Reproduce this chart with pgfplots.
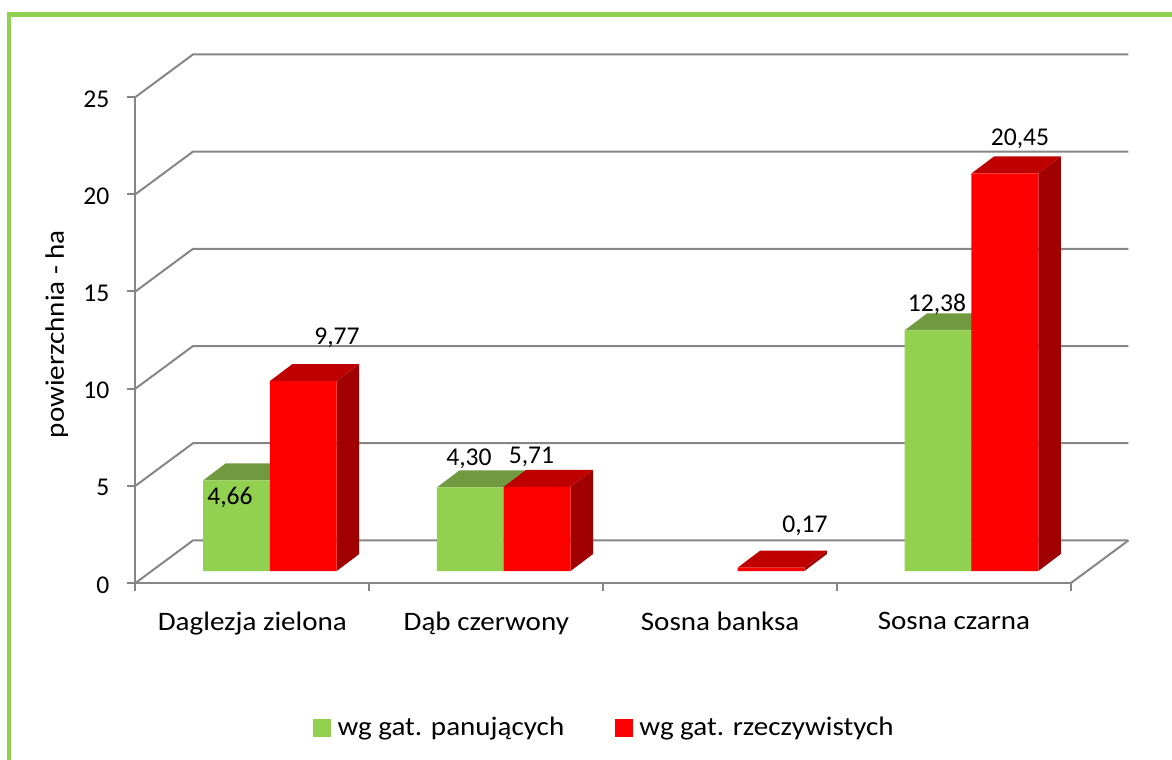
\documentclass[border=0pt]{standalone}
\usepackage{fontspec}
\setmainfont{Carlito}
\newfontfamily\widefont[FakeStretch=1.09]{Carlito}
\usepackage{pgfplots}
\pgfplotsset{compat=1.18}
\definecolor{lgreen}{HTML}{92D050}
\definecolor{tgreen}{HTML}{71993F}
\definecolor{lred}{HTML}{FF0000}
\definecolor{tred}{HTML}{BE0000}
\definecolor{sred}{HTML}{A00000}
\definecolor{sgreen}{HTML}{5A7F30}
\definecolor{axgray}{HTML}{868686}
\newcommand{\chartfont}{\fontsize{19.2}{23}\selectfont}
\newcommand{\widetext}{\widefont\fontsize{20}{24}\selectfont}
% bar geometry in axis units
\newcommand{\bw}{0.2857}
\newcommand{\base}{0.617}
\newcommand{\ddx}{0.0963}
\newcommand{\ddy}{0.8745}
\newcommand{\threedbar}[5]{%
  \pgfmathsetmacro\xa{#1}\pgfmathsetmacro\xb{#1+\bw}\pgfmathsetmacro\xc{#1+\bw+\ddx}\pgfmathsetmacro\xd{#1+\ddx}%
  \pgfmathsetmacro\ya{\base}\pgfmathsetmacro\yb{\base+#2}\pgfmathsetmacro\yc{\base+#2+\ddy}\pgfmathsetmacro\yd{\base+\ddy}%
  \addplot[fill=#5,draw=none,forget plot] coordinates {(\xb,\ya) (\xc,\yd) (\xc,\yc) (\xb,\yb) (\xb,\ya)};
  \addplot[fill=#4,draw=none,forget plot] coordinates {(\xa,\yb) (\xd,\yc) (\xc,\yc) (\xb,\yb) (\xa,\yb)};
  \addplot[fill=#3,draw=none,forget plot] coordinates {(\xa,\ya) (\xb,\ya) (\xb,\yb) (\xa,\yb) (\xa,\ya)};
}
\newcommand{\wallline}[1]{%
  \pgfmathsetmacro\yf{#1}\pgfmathsetmacro\yg{#1+2.19}%
  \addplot[axgray,line width=1.5pt,forget plot] coordinates {(0,\yf) (0.246,\yg) (4.246,\yg)};
}
\begin{document}
\begin{tikzpicture}
\path[use as bounding box] (0pt,0pt) rectangle (879pt,-570pt);
\begin{axis}[
  at={(101.6pt,-437.25pt)},anchor=origin,
  scale only axis,width=701.6pt,height=364.5pt,
  xmin=0,xmax=4,ymin=0,ymax=25,clip=false,
  axis lines=left,axis line style={-,axgray,line width=1.5pt},
  tick align=outside,tick style={axgray,line width=1.5pt},
  major tick length=6pt,
  xtick={0,1,2,3,4},x tick label as interval,
  xticklabels={Daglezja zielona,Dąb czerwony,Sosna banksa,Sosna czarna},
  ytick={0,5,10,15,20,25},
  /pgf/number format/assume math mode=true,
  yticklabel style={font=\chartfont,black,xshift=-10pt,yshift=-1.5pt},
  xticklabel style={font=\widetext,black,yshift=-12pt},
  ylabel={powierzchnia - ha},
  ylabel style={font=\widetext,black,at={(axis description cs:-0.0765,0.512)},anchor=base},
  legend columns=2,
  legend style={draw=none,fill=none,font=\widetext,at={(130pt,-96.5pt)},anchor=north west,
    /tikz/every even column/.style={column sep=36pt}},
  legend image code/.code={\fill[#1] (0pt,-6.5pt) rectangle (13pt,6.5pt);\path (16pt,0pt);},
]
\addlegendimage{lgreen}
\addlegendentry{wg gat. panujących}
\addlegendimage{lred}
\addlegendentry{wg gat. rzeczywistych}
% walls and floor
\wallline{0}\wallline{5}\wallline{10}\wallline{15}\wallline{20}\wallline{25}
\addplot[axgray,line width=1.5pt,forget plot] coordinates {(4,0) (4.246,2.19)};
% bars: x of left edge, height, front, top, side
\threedbar{0.289}{4.66}{lgreen}{tgreen}{sgreen}
\threedbar{0.5747}{9.77}{lred}{tred}{sred}
\threedbar{1.289}{4.30}{lgreen}{tgreen}{sgreen}
\threedbar{1.5747}{4.33}{lred}{tred}{sred}% drawn this high in the reference, labelled 5,71
\threedbar{2.5747}{0.17}{lred}{tred}{sred}
\threedbar{3.289}{12.38}{lgreen}{tgreen}{sgreen}
\threedbar{3.5747}{20.45}{lred}{tred}{sred}
\end{axis}
\begin{scope}[x=0.75pt,y=-0.75pt]
\draw[lgreen,line width=3.4pt] (9,760) -- (9,14.7) -- (1172,14.7);
\tikzset{dl/.style={font=\chartfont,inner sep=0pt,black}}
\node[dl] at (230,497) {4,66};
\node[dl] at (337,338) {9,77};
\node[dl] at (469,459) {4,30};
\node[dl] at (531.5,457) {5,71};
\node[dl] at (805,526) {0,17};
\node[dl] at (937,304) {12,38};
\node[dl] at (1020,139) {20,45};
\end{scope}
\end{tikzpicture}
\end{document}
